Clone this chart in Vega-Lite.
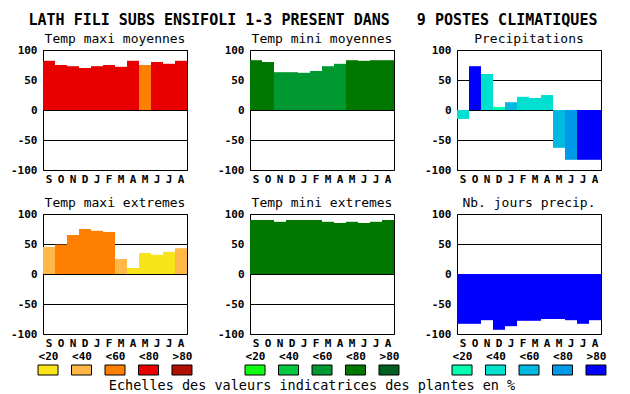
{
  "$schema": "https://vega.github.io/schema/vega-lite/v6.json",
  "padding": {"left": 10, "top": 12, "right": 5, "bottom": 2},
  "background": "white",
  "title": {"text": "LATH FILI SUBS ENSIFOLI 1-3 PRESENT DANS\u00a0\u00a0\u00a09 POSTES CLIMATIQUES", "font": "DejaVu Sans Mono", "fontSize": 15, "fontWeight": "bold", "color": "black", "anchor": "middle", "frame": "bounds", "offset": 5, "dx": 4, "dy": 0},
  "datasets": {
    "barres": [
      {"panel": "Temp maxi moyennes", "mois": "Sep", "valeur": 82, "classe": "T<80"},
      {"panel": "Temp maxi moyennes", "mois": "Oct", "valeur": 75, "classe": "T<80"},
      {"panel": "Temp maxi moyennes", "mois": "Nov", "valeur": 73, "classe": "T<80"},
      {"panel": "Temp maxi moyennes", "mois": "Dec", "valeur": 70, "classe": "T<80"},
      {"panel": "Temp maxi moyennes", "mois": "Jan", "valeur": 73, "classe": "T<80"},
      {"panel": "Temp maxi moyennes", "mois": "Fev", "valeur": 75, "classe": "T<80"},
      {"panel": "Temp maxi moyennes", "mois": "Mar", "valeur": 72, "classe": "T<80"},
      {"panel": "Temp maxi moyennes", "mois": "Avr", "valeur": 82, "classe": "T<80"},
      {"panel": "Temp maxi moyennes", "mois": "Mai", "valeur": 75, "classe": "T<60"},
      {"panel": "Temp maxi moyennes", "mois": "Juin", "valeur": 80, "classe": "T<80"},
      {"panel": "Temp maxi moyennes", "mois": "Juil", "valeur": 77, "classe": "T<80"},
      {"panel": "Temp maxi moyennes", "mois": "Aou", "valeur": 82, "classe": "T<80"},
      {"panel": "Temp mini moyennes", "mois": "Sep", "valeur": 83, "classe": "G<80"},
      {"panel": "Temp mini moyennes", "mois": "Oct", "valeur": 80, "classe": "G<80"},
      {"panel": "Temp mini moyennes", "mois": "Nov", "valeur": 63, "classe": "G<60"},
      {"panel": "Temp mini moyennes", "mois": "Dec", "valeur": 63, "classe": "G<60"},
      {"panel": "Temp mini moyennes", "mois": "Jan", "valeur": 62, "classe": "G<60"},
      {"panel": "Temp mini moyennes", "mois": "Fev", "valeur": 65, "classe": "G<60"},
      {"panel": "Temp mini moyennes", "mois": "Mar", "valeur": 73, "classe": "G<60"},
      {"panel": "Temp mini moyennes", "mois": "Avr", "valeur": 77, "classe": "G<60"},
      {"panel": "Temp mini moyennes", "mois": "Mai", "valeur": 83, "classe": "G<80"},
      {"panel": "Temp mini moyennes", "mois": "Juin", "valeur": 82, "classe": "G<80"},
      {"panel": "Temp mini moyennes", "mois": "Juil", "valeur": 83, "classe": "G<80"},
      {"panel": "Temp mini moyennes", "mois": "Aou", "valeur": 83, "classe": "G<80"},
      {"panel": "Precipitations", "mois": "Sep", "valeur": -15, "classe": "B<40"},
      {"panel": "Precipitations", "mois": "Oct", "valeur": 73, "classe": "B>80"},
      {"panel": "Precipitations", "mois": "Nov", "valeur": 60, "classe": "B<40"},
      {"panel": "Precipitations", "mois": "Dec", "valeur": 5, "classe": "B<20"},
      {"panel": "Precipitations", "mois": "Jan", "valeur": 13, "classe": "B<60"},
      {"panel": "Precipitations", "mois": "Fev", "valeur": 22, "classe": "B<40"},
      {"panel": "Precipitations", "mois": "Mar", "valeur": 20, "classe": "B<40"},
      {"panel": "Precipitations", "mois": "Avr", "valeur": 25, "classe": "B<40"},
      {"panel": "Precipitations", "mois": "Mai", "valeur": -63, "classe": "B<60"},
      {"panel": "Precipitations", "mois": "Juin", "valeur": -83, "classe": "B<80"},
      {"panel": "Precipitations", "mois": "Juil", "valeur": -83, "classe": "B>80"},
      {"panel": "Precipitations", "mois": "Aou", "valeur": -83, "classe": "B>80"},
      {"panel": "Temp maxi extremes", "mois": "Sep", "valeur": 45, "classe": "T<40"},
      {"panel": "Temp maxi extremes", "mois": "Oct", "valeur": 49, "classe": "T<60"},
      {"panel": "Temp maxi extremes", "mois": "Nov", "valeur": 65, "classe": "T<60"},
      {"panel": "Temp maxi extremes", "mois": "Dec", "valeur": 75, "classe": "T<60"},
      {"panel": "Temp maxi extremes", "mois": "Jan", "valeur": 72, "classe": "T<60"},
      {"panel": "Temp maxi extremes", "mois": "Fev", "valeur": 70, "classe": "T<60"},
      {"panel": "Temp maxi extremes", "mois": "Mar", "valeur": 25, "classe": "T<40"},
      {"panel": "Temp maxi extremes", "mois": "Avr", "valeur": 10, "classe": "T<20"},
      {"panel": "Temp maxi extremes", "mois": "Mai", "valeur": 35, "classe": "T<20"},
      {"panel": "Temp maxi extremes", "mois": "Juin", "valeur": 32, "classe": "T<20"},
      {"panel": "Temp maxi extremes", "mois": "Juil", "valeur": 37, "classe": "T<20"},
      {"panel": "Temp maxi extremes", "mois": "Aou", "valeur": 43, "classe": "T<40"},
      {"panel": "Temp mini extremes", "mois": "Sep", "valeur": 90, "classe": "G<80"},
      {"panel": "Temp mini extremes", "mois": "Oct", "valeur": 90, "classe": "G<80"},
      {"panel": "Temp mini extremes", "mois": "Nov", "valeur": 87, "classe": "G<80"},
      {"panel": "Temp mini extremes", "mois": "Dec", "valeur": 90, "classe": "G<80"},
      {"panel": "Temp mini extremes", "mois": "Jan", "valeur": 90, "classe": "G<80"},
      {"panel": "Temp mini extremes", "mois": "Fev", "valeur": 90, "classe": "G<80"},
      {"panel": "Temp mini extremes", "mois": "Mar", "valeur": 87, "classe": "G<80"},
      {"panel": "Temp mini extremes", "mois": "Avr", "valeur": 85, "classe": "G<80"},
      {"panel": "Temp mini extremes", "mois": "Mai", "valeur": 87, "classe": "G<80"},
      {"panel": "Temp mini extremes", "mois": "Juin", "valeur": 85, "classe": "G<80"},
      {"panel": "Temp mini extremes", "mois": "Juil", "valeur": 87, "classe": "G<80"},
      {"panel": "Temp mini extremes", "mois": "Aou", "valeur": 90, "classe": "G<80"},
      {"panel": "Nb. jours precip.", "mois": "Sep", "valeur": -83, "classe": "B>80"},
      {"panel": "Nb. jours precip.", "mois": "Oct", "valeur": -83, "classe": "B>80"},
      {"panel": "Nb. jours precip.", "mois": "Nov", "valeur": -77, "classe": "B>80"},
      {"panel": "Nb. jours precip.", "mois": "Dec", "valeur": -93, "classe": "B>80"},
      {"panel": "Nb. jours precip.", "mois": "Jan", "valeur": -87, "classe": "B>80"},
      {"panel": "Nb. jours precip.", "mois": "Fev", "valeur": -78, "classe": "B>80"},
      {"panel": "Nb. jours precip.", "mois": "Mar", "valeur": -78, "classe": "B>80"},
      {"panel": "Nb. jours precip.", "mois": "Avr", "valeur": -75, "classe": "B>80"},
      {"panel": "Nb. jours precip.", "mois": "Mai", "valeur": -75, "classe": "B>80"},
      {"panel": "Nb. jours precip.", "mois": "Juin", "valeur": -77, "classe": "B>80"},
      {"panel": "Nb. jours precip.", "mois": "Juil", "valeur": -83, "classe": "B>80"},
      {"panel": "Nb. jours precip.", "mois": "Aou", "valeur": -77, "classe": "B>80"}
    ],
    "legende": [
      {"groupe": "T", "niveau": "<20", "classe": "T<20"},
      {"groupe": "T", "niveau": "<40", "classe": "T<40"},
      {"groupe": "T", "niveau": "<60", "classe": "T<60"},
      {"groupe": "T", "niveau": "<80", "classe": "T<80"},
      {"groupe": "T", "niveau": ">80", "classe": "T>80"},
      {"groupe": "G", "niveau": "<20", "classe": "G<20"},
      {"groupe": "G", "niveau": "<40", "classe": "G<40"},
      {"groupe": "G", "niveau": "<60", "classe": "G<60"},
      {"groupe": "G", "niveau": "<80", "classe": "G<80"},
      {"groupe": "G", "niveau": ">80", "classe": "G>80"},
      {"groupe": "B", "niveau": "<20", "classe": "B<20"},
      {"groupe": "B", "niveau": "<40", "classe": "B<40"},
      {"groupe": "B", "niveau": "<60", "classe": "B<60"},
      {"groupe": "B", "niveau": "<80", "classe": "B<80"},
      {"groupe": "B", "niveau": ">80", "classe": "B>80"}
    ],
    "legende_titre": [
      {"texte": "Echelles des valeurs indicatrices des plantes en %"}
    ]
  },
  "spacing": 1,
  "vconcat": [
    {
      "columns": 3,
      "spacing": {"row": 11, "column": 29},
      "concat": [
        {
          "title": "Temp maxi moyennes",
          "width": 144, "height": 120,
          "data": {"name": "barres"},
          "transform": [{"filter": "datum.panel === 'Temp maxi moyennes'"}],
          "mark": {"type": "bar"},
          "encoding": {
            "x": {"field": "mois", "type": "ordinal", "sort": null, "scale": {"paddingInner": 0, "paddingOuter": 0}, "axis": {"title": null, "labelExpr": "upper(substring(datum.value,0,1))"}},
            "y": {"field": "valeur", "type": "quantitative", "scale": {"domain": [-100, 100], "nice": false}, "axis": {"title": null, "values": [-100, -50, 0, 50, 100], "labelExpr": "'' + datum.value"}},
            "color": {"field": "classe", "type": "nominal", "legend": null, "scale": {"domain": ["T<20","T<40","T<60","T<80","T>80","G<20","G<40","G<60","G<80","G>80","B<20","B<40","B<60","B<80","B>80"], "range": ["#f8e418","#ffb848","#ff8000","#e80000","#b01000","#10ff10","#00c840","#009830","#007800","#006020","#00ffb0","#00e0d0","#00b8e0","#0098e8","#0000ff"]}}
          }
        },
        {
          "title": "Temp mini moyennes",
          "width": 144, "height": 120,
          "data": {"name": "barres"},
          "transform": [{"filter": "datum.panel === 'Temp mini moyennes'"}],
          "mark": {"type": "bar"},
          "encoding": {
            "x": {"field": "mois", "type": "ordinal", "sort": null, "scale": {"paddingInner": 0, "paddingOuter": 0}, "axis": {"title": null, "labelExpr": "upper(substring(datum.value,0,1))"}},
            "y": {"field": "valeur", "type": "quantitative", "scale": {"domain": [-100, 100], "nice": false}, "axis": {"title": null, "values": [-100, -50, 0, 50, 100], "labelExpr": "'' + datum.value"}},
            "color": {"field": "classe", "type": "nominal", "legend": null, "scale": {"domain": ["T<20","T<40","T<60","T<80","T>80","G<20","G<40","G<60","G<80","G>80","B<20","B<40","B<60","B<80","B>80"], "range": ["#f8e418","#ffb848","#ff8000","#e80000","#b01000","#10ff10","#00c840","#009830","#007800","#006020","#00ffb0","#00e0d0","#00b8e0","#0098e8","#0000ff"]}}
          }
        },
        {
          "title": "Precipitations",
          "width": 144, "height": 120,
          "data": {"name": "barres"},
          "transform": [{"filter": "datum.panel === 'Precipitations'"}],
          "mark": {"type": "bar"},
          "encoding": {
            "x": {"field": "mois", "type": "ordinal", "sort": null, "scale": {"paddingInner": 0, "paddingOuter": 0}, "axis": {"title": null, "labelExpr": "upper(substring(datum.value,0,1))"}},
            "y": {"field": "valeur", "type": "quantitative", "scale": {"domain": [-100, 100], "nice": false}, "axis": {"title": null, "values": [-100, -50, 0, 50, 100], "labelExpr": "'' + datum.value"}},
            "color": {"field": "classe", "type": "nominal", "legend": null, "scale": {"domain": ["T<20","T<40","T<60","T<80","T>80","G<20","G<40","G<60","G<80","G>80","B<20","B<40","B<60","B<80","B>80"], "range": ["#f8e418","#ffb848","#ff8000","#e80000","#b01000","#10ff10","#00c840","#009830","#007800","#006020","#00ffb0","#00e0d0","#00b8e0","#0098e8","#0000ff"]}}
          }
        },
        {
          "title": "Temp maxi extremes",
          "width": 144, "height": 120,
          "data": {"name": "barres"},
          "transform": [{"filter": "datum.panel === 'Temp maxi extremes'"}],
          "mark": {"type": "bar"},
          "encoding": {
            "x": {"field": "mois", "type": "ordinal", "sort": null, "scale": {"paddingInner": 0, "paddingOuter": 0}, "axis": {"title": null, "labelExpr": "upper(substring(datum.value,0,1))"}},
            "y": {"field": "valeur", "type": "quantitative", "scale": {"domain": [-100, 100], "nice": false}, "axis": {"title": null, "values": [-100, -50, 0, 50, 100], "labelExpr": "'' + datum.value"}},
            "color": {"field": "classe", "type": "nominal", "legend": null, "scale": {"domain": ["T<20","T<40","T<60","T<80","T>80","G<20","G<40","G<60","G<80","G>80","B<20","B<40","B<60","B<80","B>80"], "range": ["#f8e418","#ffb848","#ff8000","#e80000","#b01000","#10ff10","#00c840","#009830","#007800","#006020","#00ffb0","#00e0d0","#00b8e0","#0098e8","#0000ff"]}}
          }
        },
        {
          "title": "Temp mini extremes",
          "width": 144, "height": 120,
          "data": {"name": "barres"},
          "transform": [{"filter": "datum.panel === 'Temp mini extremes'"}],
          "mark": {"type": "bar"},
          "encoding": {
            "x": {"field": "mois", "type": "ordinal", "sort": null, "scale": {"paddingInner": 0, "paddingOuter": 0}, "axis": {"title": null, "labelExpr": "upper(substring(datum.value,0,1))"}},
            "y": {"field": "valeur", "type": "quantitative", "scale": {"domain": [-100, 100], "nice": false}, "axis": {"title": null, "values": [-100, -50, 0, 50, 100], "labelExpr": "'' + datum.value"}},
            "color": {"field": "classe", "type": "nominal", "legend": null, "scale": {"domain": ["T<20","T<40","T<60","T<80","T>80","G<20","G<40","G<60","G<80","G>80","B<20","B<40","B<60","B<80","B>80"], "range": ["#f8e418","#ffb848","#ff8000","#e80000","#b01000","#10ff10","#00c840","#009830","#007800","#006020","#00ffb0","#00e0d0","#00b8e0","#0098e8","#0000ff"]}}
          }
        },
        {
          "title": "Nb. jours precip.",
          "width": 144, "height": 120,
          "data": {"name": "barres"},
          "transform": [{"filter": "datum.panel === 'Nb. jours precip.'"}],
          "mark": {"type": "bar"},
          "encoding": {
            "x": {"field": "mois", "type": "ordinal", "sort": null, "scale": {"paddingInner": 0, "paddingOuter": 0}, "axis": {"title": null, "labelExpr": "upper(substring(datum.value,0,1))"}},
            "y": {"field": "valeur", "type": "quantitative", "scale": {"domain": [-100, 100], "nice": false}, "axis": {"title": null, "values": [-100, -50, 0, 50, 100], "labelExpr": "'' + datum.value"}},
            "color": {"field": "classe", "type": "nominal", "legend": null, "scale": {"domain": ["T<20","T<40","T<60","T<80","T>80","G<20","G<40","G<60","G<80","G>80","B<20","B<40","B<60","B<80","B>80"], "range": ["#f8e418","#ffb848","#ff8000","#e80000","#b01000","#10ff10","#00c840","#009830","#007800","#006020","#00ffb0","#00e0d0","#00b8e0","#0098e8","#0000ff"]}}
          }
        }
      ]
    },
    {
      "spacing": 49,
      "hconcat": [
        {
          "width": 144, "height": 10,
          "view": {"stroke": null},
          "data": {"name": "legende"},
          "transform": [{"filter": "datum.groupe === 'T'"}],
          "mark": {"type": "point", "shape": "M-1,-0.5H1V0.5H-1Z", "size": 400, "filled": true, "stroke": "black", "strokeWidth": 1, "opacity": 1},
          "encoding": {
            "x": {"field": "niveau", "type": "ordinal", "sort": null, "scale": {"type": "point", "padding": 0.15}, "axis": {"orient": "top", "title": null, "labelPadding": 3.5}},
            "color": {"field": "classe", "type": "nominal", "legend": null, "scale": {"domain": ["T<20","T<40","T<60","T<80","T>80","G<20","G<40","G<60","G<80","G>80","B<20","B<40","B<60","B<80","B>80"], "range": ["#f8e418","#ffb848","#ff8000","#e80000","#b01000","#10ff10","#00c840","#009830","#007800","#006020","#00ffb0","#00e0d0","#00b8e0","#0098e8","#0000ff"]}}
          }
        },
        {
          "width": 144, "height": 10,
          "view": {"stroke": null},
          "data": {"name": "legende"},
          "transform": [{"filter": "datum.groupe === 'G'"}],
          "mark": {"type": "point", "shape": "M-1,-0.5H1V0.5H-1Z", "size": 400, "filled": true, "stroke": "black", "strokeWidth": 1, "opacity": 1},
          "encoding": {
            "x": {"field": "niveau", "type": "ordinal", "sort": null, "scale": {"type": "point", "padding": 0.15}, "axis": {"orient": "top", "title": null, "labelPadding": 3.5}},
            "color": {"field": "classe", "type": "nominal", "legend": null, "scale": {"domain": ["T<20","T<40","T<60","T<80","T>80","G<20","G<40","G<60","G<80","G>80","B<20","B<40","B<60","B<80","B>80"], "range": ["#f8e418","#ffb848","#ff8000","#e80000","#b01000","#10ff10","#00c840","#009830","#007800","#006020","#00ffb0","#00e0d0","#00b8e0","#0098e8","#0000ff"]}}
          }
        },
        {
          "width": 144, "height": 10,
          "view": {"stroke": null},
          "data": {"name": "legende"},
          "transform": [{"filter": "datum.groupe === 'B'"}],
          "mark": {"type": "point", "shape": "M-1,-0.5H1V0.5H-1Z", "size": 400, "filled": true, "stroke": "black", "strokeWidth": 1, "opacity": 1},
          "encoding": {
            "x": {"field": "niveau", "type": "ordinal", "sort": null, "scale": {"type": "point", "padding": 0.15}, "axis": {"orient": "top", "title": null, "labelPadding": 3.5}},
            "color": {"field": "classe", "type": "nominal", "legend": null, "scale": {"domain": ["T<20","T<40","T<60","T<80","T>80","G<20","G<40","G<60","G<80","G>80","B<20","B<40","B<60","B<80","B>80"], "range": ["#f8e418","#ffb848","#ff8000","#e80000","#b01000","#10ff10","#00c840","#009830","#007800","#006020","#00ffb0","#00e0d0","#00b8e0","#0098e8","#0000ff"]}}
          }
        }
      ]
    },
    {
      "width": 538, "height": 11,
      "view": {"stroke": null},
      "data": {"name": "legende_titre"},
      "mark": {"type": "text", "font": "DejaVu Sans Mono", "fontSize": 13.5, "baseline": "middle", "color": "black"},
      "encoding": {"text": {"field": "texte", "type": "nominal"}}
    }
  ],
  "config": {
    "font": "DejaVu Sans Mono",
    "view": {"stroke": "black", "strokeWidth": 1},
    "axis": {"labelFont": "DejaVu Sans Mono", "labelFontSize": 11, "labelFontWeight": "bold", "labelColor": "black", "ticks": false, "domain": false},
    "axisY": {"grid": true, "gridColor": "black", "gridOpacity": 1, "gridWidth": 1, "labelPadding": 6, "labelFlush": false, "labelOverlap": false, "zindex": 1},
    "axisX": {"grid": false, "labelPadding": 3, "labelAngle": 0, "labelOverlap": false},
    "title": {"font": "DejaVu Sans Mono", "fontSize": 13, "fontWeight": "normal", "color": "black", "frame": "group", "offset": 4, "dy": 6}
  }
}
